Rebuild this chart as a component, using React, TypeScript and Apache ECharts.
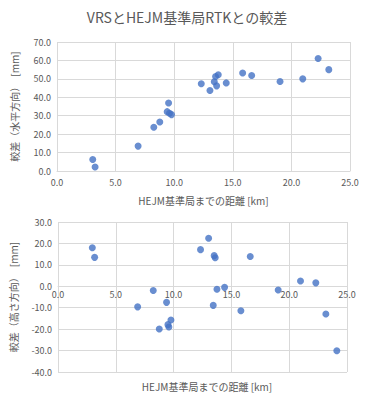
import React, { useEffect, useRef } from "react";
import * as echarts from "echarts";

const titleText = "VRSとHEJM基準局RTKとの較差";
const xName = "HEJM基準局までの距離 [km]";
const yNameTop = "較差（水平方向）　[mm]";
const yNameBottom = "較差（高さ方向）　[mm]";

const distTop = [3.05, 3.25, 6.92, 8.26, 8.77, 9.52, 9.4, 9.6, 9.77, 12.31, 13.05, 13.42, 13.53, 13.76, 13.62, 14.44, 15.84, 16.61, 19.03, 20.97, 22.28, 23.19];
const horizDiff = [6.2, 2.2, 13.5, 23.7, 26.6, 36.9, 32.2, 31.3, 30.6, 47.3, 43.7, 48.4, 51.3, 52.2, 46.2, 47.8, 53.2, 51.8, 48.6, 50.0, 61.0, 55.0];

const distBottom = [2.97, 3.17, 6.89, 8.24, 8.76, 9.39, 9.51, 9.59, 9.77, 12.33, 13.03, 13.43, 13.51, 13.6, 13.75, 14.41, 15.82, 16.63, 19.05, 20.98, 22.3, 23.17, 24.12];
const heightDiff = [18.0, 13.5, -9.6, -2.0, -19.9, -7.5, -17.9, -19.0, -15.7, 17.1, 22.4, -8.9, 14.3, 13.3, -1.4, -0.5, -11.4, 13.9, -1.7, 2.5, 1.6, -12.9, -30.1];

const FONT = '"Noto Sans CJK JP", "Noto Sans", sans-serif';
const GRAY = "#595959";
const GRID = "#d9d9d9";
const DOT = "#4472C4";

const BOTTOM_MIN = -40;
const BOTTOM_MAX = 30;
const BOTTOM_H = 150;

export default function App() {
  const ref = useRef<HTMLDivElement>(null);
  useEffect(() => {
    if (!ref.current) return;
    const chart = echarts.init(ref.current, undefined, { renderer: "svg" });
    const fmt = (v: number) => v.toFixed(1);
    const axisLabel = { color: GRAY, fontSize: 9, fontFamily: FONT, formatter: fmt };
    const splitLine = { show: true, lineStyle: { color: GRID, width: 1 } };
    const zeroOffset = -(BOTTOM_H * (0 - BOTTOM_MIN)) / (BOTTOM_MAX - BOTTOM_MIN);
    chart.setOption({
      animation: false,
      textStyle: { fontFamily: FONT },
      title: [
        {
          text: titleText,
          left: 182,
          top: 5,
          textAlign: "center",
          textStyle: { color: GRAY, fontSize: 14, fontWeight: "normal", fontFamily: FONT },
        },
        {
          text: xName,
          left: 202,
          top: 376,
          textAlign: "center",
          textStyle: { color: GRAY, fontSize: 10, fontWeight: "normal", fontFamily: FONT },
        },
      ],
      grid: [
        { left: 57, top: 42, width: 293, height: 129 },
        { left: 57, top: 222, width: 290, height: BOTTOM_H },
      ],
      xAxis: [
        {
          gridIndex: 0,
          type: "value",
          min: 0,
          max: 25,
          interval: 5,
          axisLabel: { ...axisLabel, margin: 7 },
          axisTick: { show: false },
          axisLine: { show: true, lineStyle: { color: GRID } },
          splitLine,
          name: xName,
          nameLocation: "middle",
          nameGap: 24,
          nameTextStyle: { color: GRAY, fontSize: 10, fontFamily: FONT },
        },
        {
          gridIndex: 1,
          type: "value",
          min: 0,
          max: 25,
          interval: 5,
          position: "bottom",
          offset: zeroOffset,
          axisLabel: { ...axisLabel, margin: 4 },
          axisTick: { show: false },
          axisLine: { show: true, onZero: false, lineStyle: { color: GRID } },
          splitLine,
        },
      ],
      yAxis: [
        {
          gridIndex: 0,
          type: "value",
          min: 0,
          max: 70,
          interval: 10,
          axisLabel: { ...axisLabel, margin: 6 },
          axisTick: { show: false },
          axisLine: { show: false },
          splitLine,
          name: yNameTop,
          nameLocation: "middle",
          nameGap: 38,
          nameTextStyle: { color: GRAY, fontSize: 10, fontFamily: FONT },
        },
        {
          gridIndex: 1,
          type: "value",
          min: BOTTOM_MIN,
          max: BOTTOM_MAX,
          interval: 10,
          axisLabel: { ...axisLabel, margin: 6 },
          axisTick: { show: false },
          axisLine: { show: false },
          splitLine,
          name: yNameBottom,
          nameLocation: "middle",
          nameGap: 40,
          nameTextStyle: { color: GRAY, fontSize: 10, fontFamily: FONT },
        },
      ],
      series: [
        {
          type: "scatter",
          xAxisIndex: 0,
          yAxisIndex: 0,
          symbolSize: 7,
          itemStyle: { color: DOT },
          data: distTop.map((d, i) => [d, horizDiff[i]]),
        },
        {
          type: "scatter",
          xAxisIndex: 1,
          yAxisIndex: 1,
          symbolSize: 7,
          itemStyle: { color: DOT },
          data: distBottom.map((d, i) => [d, heightDiff[i]]),
        },
      ],
    });
    return () => chart.dispose();
  }, []);
  return (
    <div
      ref={ref}
      style={{ position: "fixed", left: 0, top: 0, width: 377, height: 400, background: "#fff" }}
    />
  );
}
